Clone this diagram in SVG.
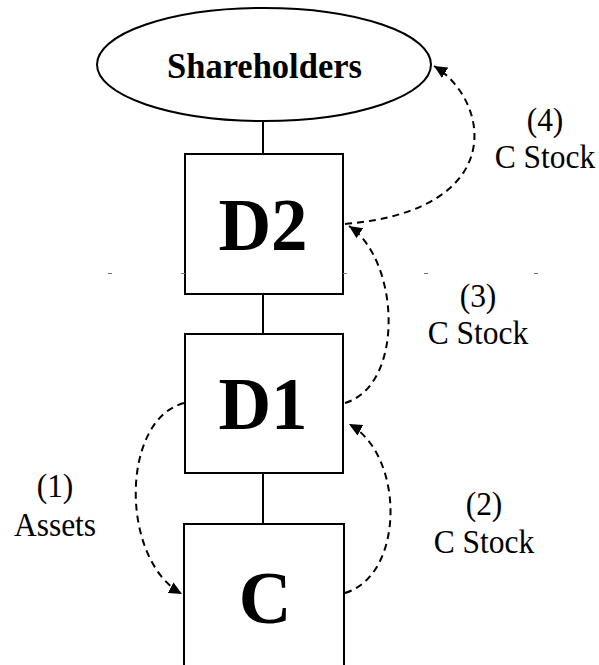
<svg xmlns="http://www.w3.org/2000/svg" width="599" height="665" viewBox="0 0 599 665">
  <style>
    .shape { fill: #fff; stroke: #000; stroke-width: 2; }
    .link { fill: none; stroke: #000; stroke-width: 2; }
    .flow { fill: none; stroke: #000; stroke-width: 2; stroke-dasharray: 7 5; marker-end: url(#head); }
    .tick { stroke: #777; stroke-width: 1; }
    .title { font-family: "Liberation Serif", "Times New Roman", serif; font-weight: bold; text-anchor: middle; fill: #000; }
    .label { font-family: "Liberation Serif", "Times New Roman", serif; font-size: 31.5px; text-anchor: middle; fill: #000; }
  </style>
  <defs>
    <marker id="head" markerUnits="userSpaceOnUse" markerWidth="14" markerHeight="12" refX="13" refY="6" orient="auto">
      <path d="M0,0 L13,6 L0,12 Z" fill="#000"/>
    </marker>
  </defs>
  <rect width="599" height="665" fill="#fff"/>

  <!-- ownership chain -->
  <g id="connectors">
    <line class="link" x1="263" y1="121" x2="263" y2="154"/>
    <line class="link" x1="263" y1="294" x2="263" y2="334"/>
    <line class="link" x1="263" y1="473" x2="263" y2="524"/>
    <path class="flow" d="M184,403 C120,420 120,560 182,594"/>
    <path class="flow" d="M345,593 C405,575 405,455 349,424"/>
    <path class="flow" d="M345,403 C405,385 400,260 349,226"/>
    <path class="flow" d="M345,224 C510,210 490,100 434,66"/>
  </g>

  <g id="shareholders">
    <ellipse class="shape" cx="264" cy="64.5" rx="167" ry="56.5"/>
    <text class="title" transform="translate(264.5,77.5) scale(1,1.06)" font-size="34.5">Shareholders</text>
  </g>
  <g id="d2">
    <rect class="shape" x="185" y="154" width="158" height="140"/>
    <text class="title" x="263" y="250" font-size="73">D2</text>
  </g>
  <g id="d1">
    <rect class="shape" x="185" y="334" width="158" height="139"/>
    <text class="title" x="263" y="429" font-size="73">D1</text>
  </g>
  <g id="c">
    <rect class="shape" x="184" y="524" width="160" height="150"/>
    <text class="title" x="265" y="623" font-size="73">C</text>
  </g>

  <!-- flow labels -->
  <g id="labels">
    <text class="label" transform="translate(55,497) scale(1,1.06)">(1)</text>
    <text class="label" transform="translate(55,536) scale(1,1.06)">Assets</text>
    <text class="label" transform="translate(484,515) scale(1,1.06)">(2)</text>
    <text class="label" transform="translate(484,553) scale(1,1.06)">C Stock</text>
    <text class="label" transform="translate(478,307) scale(1,1.06)">(3)</text>
    <text class="label" transform="translate(478,344) scale(1,1.06)">C Stock</text>
    <text class="label" transform="translate(545,131) scale(1,1.06)">(4)</text>
    <text class="label" transform="translate(545,168) scale(1,1.06)">C Stock</text>
  </g>

  <!-- stray guide marks -->
  <g id="marks">
    <line class="tick" x1="108" y1="273.5" x2="112" y2="273.5"/>
    <line class="tick" x1="181" y1="273.5" x2="185" y2="273.5"/>
    <line class="tick" x1="343" y1="273.5" x2="347" y2="273.5"/>
    <line class="tick" x1="424" y1="273.5" x2="428" y2="273.5"/>
    <line class="tick" x1="534" y1="273.5" x2="538" y2="273.5"/>
  </g>
</svg>
